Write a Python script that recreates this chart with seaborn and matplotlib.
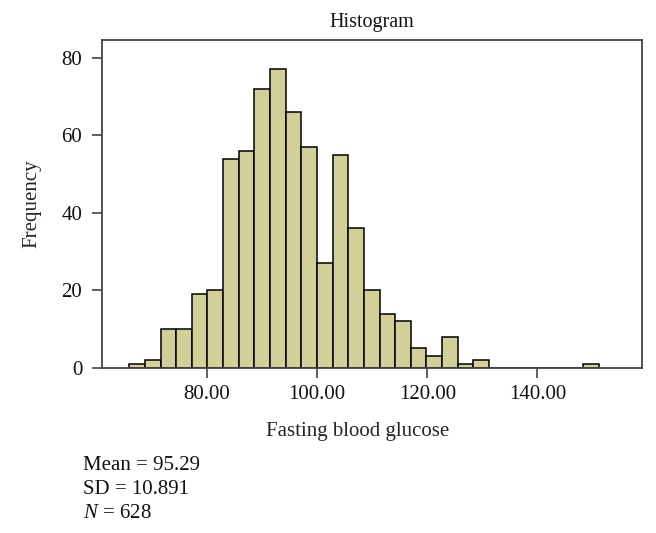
import numpy as np
import pandas as pd
import seaborn as sns
import matplotlib.pyplot as plt

# frequencies per bin (30 bins of equal width)
counts = [1, 2, 10, 10, 19, 20, 54, 56, 72, 77, 66, 57, 27, 55, 36,
          20, 14, 12, 5, 3, 8, 1, 2, 0, 0, 0, 0, 0, 0, 1]
bin_start = 65.9
bin_width = 2.84
x_ticks = [80, 100, 120, 140]
y_ticks = [0, 20, 40, 60, 80]
stats_lines = ['Mean = 95.29', 'SD = 10.891', '$N$ = 628']

edges = bin_start + bin_width * np.arange(len(counts) + 1)
df = pd.DataFrame({'glucose': (edges[:-1] + edges[1:]) / 2, 'freq': counts})

sns.set_theme(style='white')
plt.rcParams['font.family'] = ['Liberation Serif', 'DejaVu Serif']
plt.rcParams['mathtext.fontset'] = 'custom'
plt.rcParams['mathtext.it'] = 'Liberation Serif:italic'
plt.rcParams['mathtext.rm'] = 'Liberation Serif'
plt.rcParams['text.color'] = '#111111'
plt.rcParams['xtick.labelcolor'] = '#111111'
plt.rcParams['ytick.labelcolor'] = '#111111'

fig = plt.figure(figsize=(6.56, 5.33), dpi=100)
ax = fig.add_axes([0.155, 0.310, 0.823, 0.615])

sns.histplot(data=df, x='glucose', weights='freq', bins=edges.tolist(), ax=ax,
             color='#d3cf99', edgecolor='black', linewidth=1.1, alpha=1)

ax.set_xlim(60.9, 158.9)
ax.set_ylim(0, 84.6)
ax.set_xticks(x_ticks)
ax.set_xticklabels([f'{t:.2f}' for t in x_ticks])
ax.set_yticks(y_ticks)
ax.tick_params(axis='both', which='major', direction='out', length=7.5,
               width=1.2, color='#444444', labelsize=15, bottom=True,
               left=True)
ax.tick_params(axis='x', pad=5)
ax.tick_params(axis='y', pad=6.5)
for s in ax.spines.values():
    s.set_color('#444444')
    s.set_linewidth(1.3)

ax.set_title('Histogram', fontsize=14.5, pad=9)
ax.set_xlabel('Fasting blood glucose', fontsize=15)
ax.set_ylabel('Frequency', fontsize=15)
ax.xaxis.set_label_coords(0.4746, -0.165)
ax.yaxis.set_label_coords(-0.112, 0.5)

# summary statistics under the plot
for i, line in enumerate(stats_lines):
    fig.text(83 / 656, 1 - (466 + 23.5 * i) / 533, line, fontsize=15,
             va='center')

fig.savefig('out.png', dpi=100)
